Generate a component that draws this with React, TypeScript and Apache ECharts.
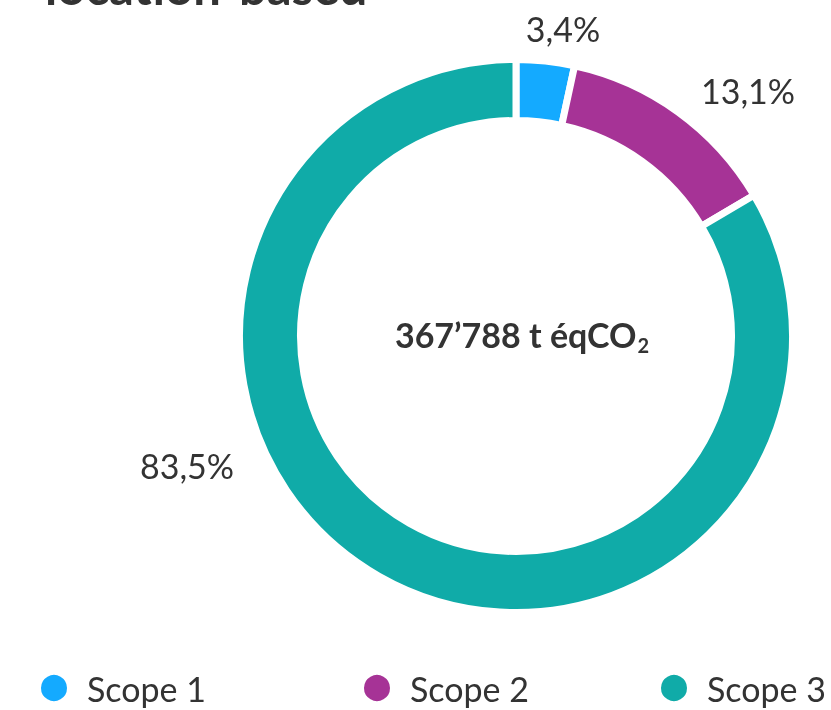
import React, { useEffect, useRef } from "react";
import * as echarts from "echarts";

const TITLE = "location-based";
const CATEGORIES = ["Scope 1", "Scope 2", "Scope 3"];
const VALUES = [3.4, 13.1, 83.5];
const COLORS = ["#14aaff", "#a63396", "#10aba8"];
const TOTAL_MAIN = "367’788 t éqCO";
const TOTAL_SUB = "2";

// label anchor positions (layout only)
const LABEL_POS: [number, number][] = [
  [563, 28],
  [748, 90],
  [187, 465],
];
const LEGEND_LEFT = [39, 362, 659];

export default function App() {
  const ref = useRef<HTMLDivElement>(null);
  useEffect(() => {
    if (!ref.current) return;
    const chart = echarts.init(ref.current, undefined, { renderer: "svg" });
    const data = CATEGORIES.map((name, i) => ({
      name,
      value: VALUES[i],
      itemStyle: { color: COLORS[i] },
    }));
    chart.setOption({
      animation: false,
      textStyle: { fontFamily: "Lato" },
      legend: CATEGORIES.map((name, i) => ({
        data: [name],
        left: LEGEND_LEFT[i],
        top: 671,
        padding: 0,
        icon: "circle",
        itemWidth: 28,
        itemHeight: 28,
        selectedMode: false,
        textStyle: {
          fontFamily: "Lato",
          fontSize: 34,
          color: "#333",
          padding: [0, 0, 0, 14],
        },
      })),
      graphic: [
        {
          type: "text",
          x: 45,
          y: 10,
          style: {
            text: TITLE,
            font: "bold 49px Lato",
            fill: "#333",
            verticalAlign: "bottom",
          },
        },
        {
          type: "text",
          x: 522,
          y: 334,
          style: {
            text: `{a|${TOTAL_MAIN}}{s|${TOTAL_SUB}}`,
            align: "center",
            verticalAlign: "middle",
            fill: "#333",
            rich: {
              a: {
                fontFamily: "Lato",
                fontWeight: "bold",
                fontSize: 34,
                fill: "#333",
              },
              s: {
                fontFamily: "Lato",
                fontWeight: "bold",
                fontSize: 20,
                fill: "#333",
                padding: [22, 0, 0, 1],
              },
            },
          },
        },
      ],
      series: [
        {
          type: "pie",
          center: [516, 336],
          radius: [215.5, 276.5],
          startAngle: 90,
          clockwise: true,
          data,
          itemStyle: { borderColor: "#fff", borderWidth: 7 },
          label: {
            show: true,
            position: "outside",
            fontFamily: "Lato",
            fontSize: 34,
            color: "#333",
            formatter: (p: any) =>
              p.value.toFixed(1).replace(".", ",") + "%",
          },
          labelLine: { show: false },
          labelLayout: (p: any) => ({
            x: LABEL_POS[p.dataIndex][0],
            y: LABEL_POS[p.dataIndex][1],
            align: "center",
            verticalAlign: "middle",
          }),
          emphasis: { disabled: true },
        },
      ],
    });
    return () => chart.dispose();
  }, []);
  return (
    <div
      ref={ref}
      style={{ position: "fixed", left: 0, top: 0, width: 831, height: 710 }}
    />
  );
}
